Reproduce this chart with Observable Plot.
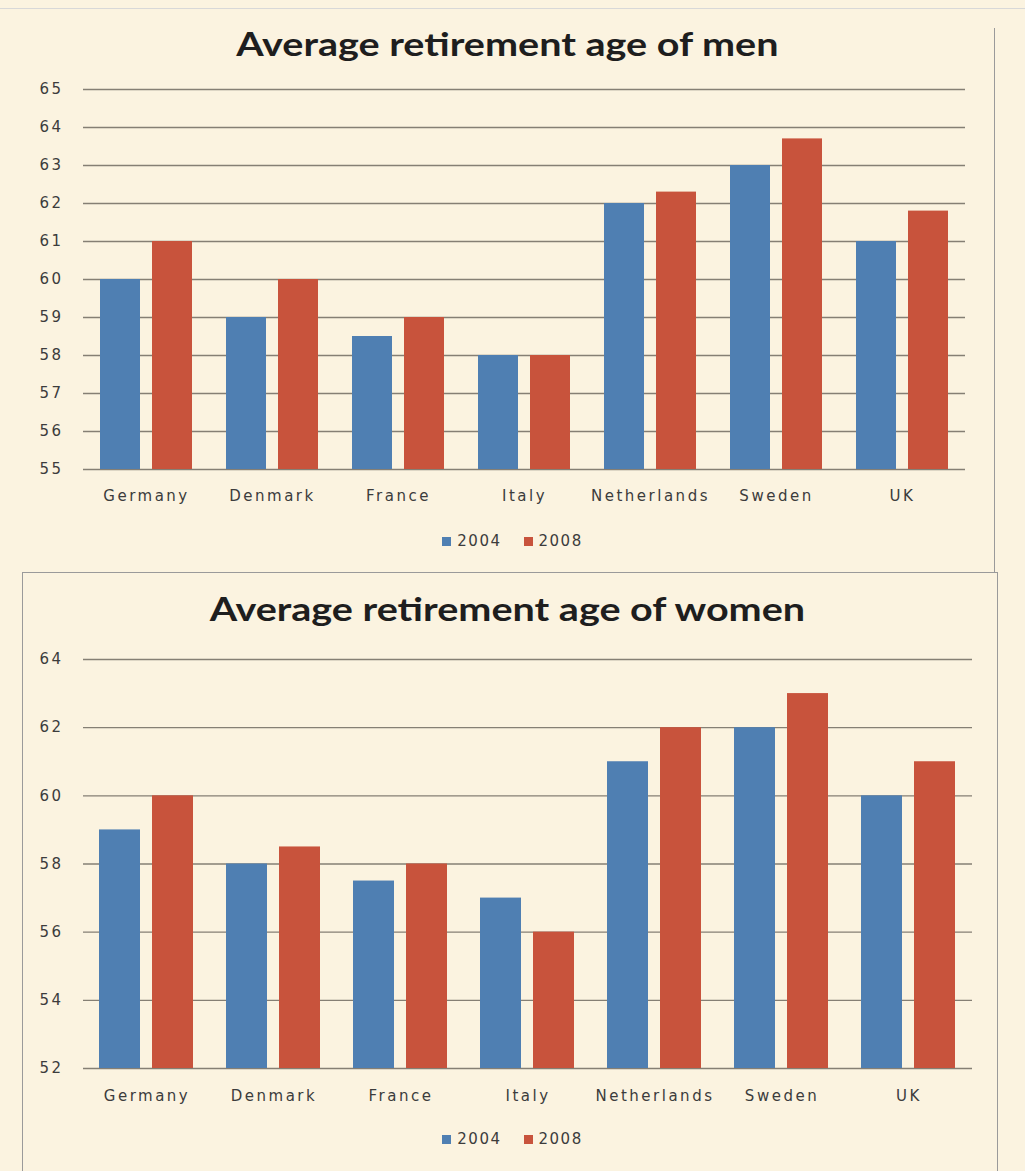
<!DOCTYPE html>
<html>
<head>
<meta charset="utf-8">
<script src="https://cdn.jsdelivr.net/npm/d3@7"></script>
<script src="https://cdn.jsdelivr.net/npm/@observablehq/plot@0.6"></script>
<style>
  html, body { margin: 0; padding: 0; }
  body { width: 1025px; height: 1171px; background: #fbf3e0; position: relative; overflow: hidden; font-family: "DejaVu Sans", sans-serif; }
  .abs { position: absolute; }
  .title { position: absolute; left: 0; width: 1015px; text-align: center; font-family: Lato, sans-serif; font-weight: 700; font-size: 32px; color: #1e1e1e; line-height: 1; transform: scaleX(1.235); transform-origin: 508px 0; }
  .legend { position: absolute; left: 0; width: 1025px; display: flex; justify-content: center; align-items: center; gap: 22px; font-size: 15px; color: #3c3c3c; letter-spacing: 1.5px; }
  .legend span.sw { display: inline-block; width: 9px; height: 9px; margin-right: 6px; }
  svg text { letter-spacing: 2.5px; }
  .line { position: absolute; background: #9a9a9a; }
</style>
</head>
<body>
<div class="line" style="left:0;top:8px;width:1025px;height:1px;background:#d8d8d8"></div>
<div class="line" style="left:994px;top:28px;width:1px;height:545px"></div>
<div class="line" style="left:22px;top:572px;width:976px;height:1px"></div>
<div class="line" style="left:22px;top:572px;width:1px;height:600px"></div>
<div class="line" style="left:997px;top:572px;width:1px;height:600px"></div>

<div class="title" style="top:28px">Average retirement age of men</div>
<div id="men" class="abs" style="left:0;top:70px"></div>
<div id="legendMen" class="legend" style="top:532px"></div>

<div class="title" style="top:593px">Average retirement age of women</div>
<div id="women" class="abs" style="left:0;top:630px"></div>
<div id="legendWomen" class="legend" style="top:1130px"></div>

<script>
const countries = ["Germany", "Denmark", "France", "Italy", "Netherlands", "Sweden", "UK"];
const years = ["2004", "2008"];
const men2004 = [60, 59, 58.5, 58, 62, 63, 61];
const men2008 = [61, 60, 59, 58, 62.3, 63.7, 61.8];
const women2004 = [59, 58, 57.5, 57, 61, 62, 60];
const women2008 = [60, 58.5, 58, 56, 62, 63, 61];
const menTicks = [55, 56, 57, 58, 59, 60, 61, 62, 63, 64, 65];
const womenTicks = [52, 54, 56, 58, 60, 62, 64];
const colors = ["#4f7fb2", "#c8533c"];

function rows(v04, v08) {
  const out = [];
  countries.forEach((c, i) => {
    out.push({country: c, year: years[0], value: v04[i]});
    out.push({country: c, year: years[1], value: v08[i]});
  });
  return out;
}

function chart(data, ticks, opts) {
  const base = ticks[0];
  return Plot.plot({
    width: 1025,
    height: opts.height,
    marginTop: opts.marginTop,
    marginBottom: opts.marginBottom,
    marginLeft: opts.marginLeft,
    marginRight: opts.marginRight,
    style: {background: "transparent", fontFamily: "DejaVu Sans, sans-serif", fontSize: "15px", color: "#3c3c3c"},
    fx: {domain: countries, padding: 0, label: null},
    x: {domain: years, paddingInner: 0.226, paddingOuter: 0.311, axis: null},
    y: {domain: [ticks[0], ticks[ticks.length - 1]], axis: null},
    color: {domain: years, range: colors},
    marks: [
      Plot.ruleY(ticks, {stroke: "#857f74", strokeWidth: 1.4}),
      Plot.barY(data, {fx: "country", x: "year", y1: base, y2: "value", fill: "year"}),
      Plot.axisY({ticks, tickSize: 0, tickPadding: 20, label: null, fill: "#3c3c3c"}),
      Plot.axisFx({anchor: "bottom", tickSize: 0, tickPadding: opts.fxPad, label: null, fill: "#3c3c3c"})
    ]
  });
}

document.getElementById("men").append(chart(rows(men2004, men2008), menTicks, {
  height: 450, marginTop: 19, marginBottom: 51, marginLeft: 80, marginRight: 57, fxPad: 21
}));
document.getElementById("women").append(chart(rows(women2004, women2008), womenTicks, {
  height: 500, marginTop: 29, marginBottom: 62, marginLeft: 82, marginRight: 53, fxPad: 22
}));

function legend(id) {
  const el = document.getElementById(id);
  years.forEach((y, i) => {
    const item = document.createElement("div");
    const sw = document.createElement("span");
    sw.className = "sw";
    sw.style.background = colors[i];
    item.append(sw, document.createTextNode(y));
    el.append(item);
  });
}
legend("legendMen");
legend("legendWomen");
</script>
</body>
</html>
